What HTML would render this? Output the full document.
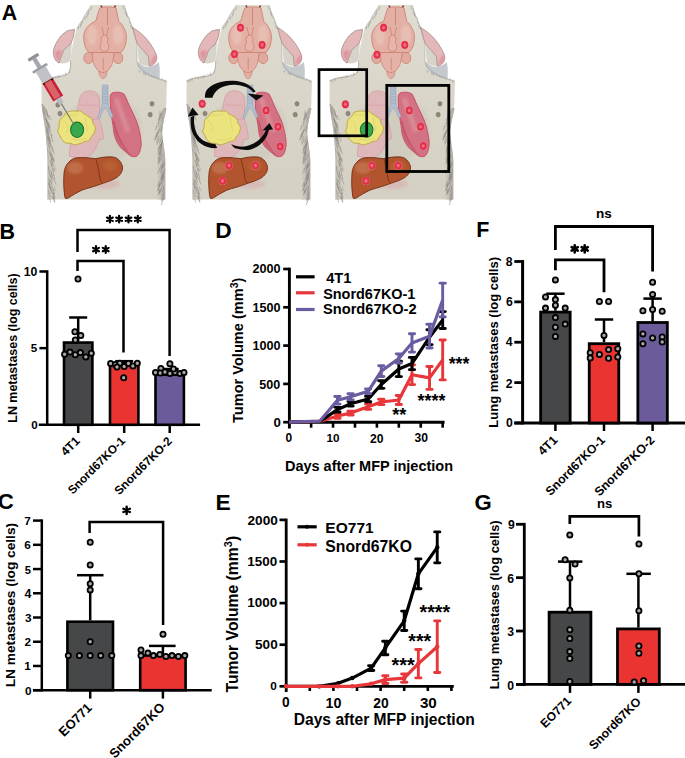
<!DOCTYPE html>
<html><head><meta charset="utf-8"><title>Figure</title>
<style>html,body{margin:0;padding:0;background:#fff;}svg{display:block;}
text{font-family:"Liberation Sans", sans-serif;fill:#000;stroke:none;}</style></head>
<body><svg width="685" height="758" viewBox="0 0 685 758">
<rect width="685" height="758" fill="#fff"/>
<defs><g id="mouse"><defs><filter id="blur1" x="-20%" y="-20%" width="140%" height="140%"><feGaussianBlur stdDeviation="1.6"/></filter><filter id="blur2" x="-20%" y="-20%" width="140%" height="140%"><feGaussianBlur stdDeviation="0.8"/></filter><linearGradient id="fringeL" x1="0" x2="1"><stop offset="0" stop-color="#a9a69f"/><stop offset="1" stop-color="#d8d3c7"/></linearGradient><linearGradient id="fringeR" x1="1" x2="0"><stop offset="0" stop-color="#a9a69f"/><stop offset="1" stop-color="#d8d3c7"/></linearGradient><linearGradient id="bodyG" x1="0" y1="0" x2="0" y2="1"><stop offset="0" stop-color="#e0dcd1"/><stop offset="0.5" stop-color="#dad5c9"/><stop offset="1" stop-color="#d5d0c4"/></linearGradient></defs>
<path d="M91.5,5 L124,5 C126,11 129,20 132.5,27 C135,31 137,34 137,37 L137,62 C139,69 147,75 156,78 C161,79.5 165,80 167,81.5 L166.5,96 C166.5,104 166,110 165,115 C163.5,121 162.1,126 162.1,130 C162.5,142 165,150 165.3,160 L165.3,199.5 L47.5,199.5 L47.5,160 C47,145 46,133 44,122 C42.5,114 41.5,108 41.5,100 L41.5,81 C45,78.5 51,77.5 56,77 C61,76.5 65,75.5 67.5,74 C70,72 71,66 70.6,61 C71.5,50 73,40 76.7,28.5 C79,24 82,21 82,21 C84,16 88,10 91.5,5 Z" fill="url(#bodyG)"/>
<path d="M137.5,61 C141,65.5 146,67.5 150,66.5 C154,66 157,64 158.5,62 C160,66 160,72 159.5,78.9 C156,78.5 152,77.5 147.5,75.5 C143,73.5 139.5,70 137.5,66 Z" fill="#c6c9cc"/>
<path d="M41.5,104 C42.5,112 43.5,118 44.5,124 C46,135 47,147 47.5,160 L47.5,199.5 L54,199.5 C53.5,180 52.5,160 51,140 C50,128 47,116 43,104 Z" fill="url(#fringeL)"/>
<path d="M166.5,108 C165.5,115 163,122 162.1,130 C162.5,142 165,150 165.3,160 L165.3,199.5 L157,199.5 C157,175 156.5,150 156,138 C156,125 159,116 163.5,108 Z" fill="url(#fringeR)"/>
<g stroke-width="0.55" fill="none" opacity="0.85"><path d="M44.1,106.0 l1.2,4.5" stroke="#6e6d68"/><path d="M42.9,107.6 l1.1,6.2" stroke="#85837d"/><path d="M45.2,108.5 l1.8,3.9" stroke="#7a7873"/><path d="M46.1,109.3 l2.0,7.5" stroke="#6e6d68"/><path d="M45.3,110.7 l3.3,7.2" stroke="#85837d"/><path d="M43.9,111.8 l1.6,4.2" stroke="#85837d"/><path d="M46.6,112.7 l1.9,4.3" stroke="#6e6d68"/><path d="M47.1,114.1 l1.7,5.7" stroke="#9a9892"/><path d="M49.2,115.3 l2.0,5.1" stroke="#85837d"/><path d="M45.2,116.8 l1.8,6.0" stroke="#9a9892"/><path d="M45.7,118.3 l3.2,7.2" stroke="#7a7873"/><path d="M46.2,119.3 l2.5,7.3" stroke="#6e6d68"/><path d="M47.9,120.9 l2.6,7.0" stroke="#9a9892"/><path d="M48.1,122.3 l1.1,5.7" stroke="#9a9892"/><path d="M48.8,123.5 l1.0,4.1" stroke="#7a7873"/><path d="M47.2,124.6 l2.9,6.0" stroke="#7a7873"/><path d="M48.7,125.8 l2.2,5.5" stroke="#9a9892"/><path d="M46.6,126.7 l1.0,5.5" stroke="#6e6d68"/><path d="M47.6,127.7 l2.0,4.7" stroke="#7a7873"/><path d="M47.0,129.3 l1.9,5.3" stroke="#7a7873"/><path d="M46.3,131.1 l1.7,4.4" stroke="#85837d"/><path d="M50.6,131.9 l1.7,4.4" stroke="#85837d"/><path d="M47.8,133.1 l1.0,6.2" stroke="#6e6d68"/><path d="M51.0,134.4 l1.9,7.6" stroke="#7a7873"/><path d="M48.2,135.6 l1.9,5.6" stroke="#85837d"/><path d="M47.1,136.5 l1.6,4.4" stroke="#6e6d68"/><path d="M49.4,137.4 l1.0,6.1" stroke="#6e6d68"/><path d="M47.2,138.2 l1.4,5.3" stroke="#9a9892"/><path d="M49.0,139.6 l1.3,4.3" stroke="#7a7873"/><path d="M48.1,140.9 l1.0,4.5" stroke="#9a9892"/><path d="M50.5,142.2 l2.3,5.6" stroke="#9a9892"/><path d="M49.7,143.1 l1.2,3.9" stroke="#6e6d68"/><path d="M48.1,144.6 l2.1,5.0" stroke="#85837d"/><path d="M51.4,146.0 l2.0,4.9" stroke="#85837d"/><path d="M51.8,147.6 l2.6,6.5" stroke="#7a7873"/><path d="M47.0,148.7 l1.5,3.8" stroke="#9a9892"/><path d="M50.6,149.7 l1.1,5.3" stroke="#9a9892"/><path d="M49.3,151.5 l1.8,4.5" stroke="#85837d"/><path d="M50.1,152.6 l2.1,7.7" stroke="#6e6d68"/><path d="M51.2,153.9 l3.0,6.6" stroke="#6e6d68"/><path d="M52.2,155.6 l2.1,6.7" stroke="#85837d"/><path d="M51.4,156.8 l0.7,4.3" stroke="#7a7873"/><path d="M52.1,158.1 l1.7,4.0" stroke="#85837d"/><path d="M51.3,158.9 l1.5,5.7" stroke="#7a7873"/><path d="M50.0,160.4 l2.5,5.7" stroke="#6e6d68"/><path d="M52.3,162.0 l1.0,4.3" stroke="#85837d"/><path d="M53.2,163.2 l2.8,6.8" stroke="#9a9892"/><path d="M50.9,164.2 l2.4,6.6" stroke="#7a7873"/><path d="M48.2,165.9 l1.3,6.8" stroke="#7a7873"/><path d="M53.2,167.5 l1.8,4.2" stroke="#6e6d68"/><path d="M52.6,169.2 l1.4,6.3" stroke="#85837d"/><path d="M50.7,170.1 l1.9,6.6" stroke="#9a9892"/><path d="M51.1,171.6 l1.3,5.8" stroke="#6e6d68"/><path d="M49.5,172.7 l2.1,6.8" stroke="#6e6d68"/><path d="M53.5,174.2 l1.5,5.6" stroke="#85837d"/><path d="M50.6,175.7 l1.9,5.8" stroke="#85837d"/><path d="M53.2,177.2 l2.8,7.2" stroke="#85837d"/><path d="M48.7,178.9 l1.4,4.3" stroke="#6e6d68"/><path d="M50.5,180.3 l1.7,4.5" stroke="#6e6d68"/><path d="M48.8,182.0 l1.7,6.6" stroke="#85837d"/><path d="M48.7,183.1 l1.3,5.7" stroke="#6e6d68"/><path d="M50.8,184.3 l1.6,7.8" stroke="#85837d"/><path d="M54.0,185.8 l1.8,5.3" stroke="#9a9892"/><path d="M52.3,186.9 l1.1,3.9" stroke="#7a7873"/><path d="M50.2,188.4 l2.1,5.7" stroke="#6e6d68"/><path d="M53.5,189.3 l0.9,4.8" stroke="#6e6d68"/><path d="M48.0,190.4 l2.6,6.6" stroke="#85837d"/><path d="M53.1,192.0 l1.1,6.6" stroke="#7a7873"/><path d="M53.5,193.0 l1.5,6.1" stroke="#6e6d68"/><path d="M52.8,194.0 l0.9,4.7" stroke="#9a9892"/><path d="M51.7,195.8 l3.0,6.6" stroke="#85837d"/><path d="M53.1,196.6 l2.0,5.5" stroke="#7a7873"/><path d="M49.5,198.4 l1.3,4.3" stroke="#85837d"/><path d="M160.2,110.0 l-1.0,4.9" stroke="#9a9892"/><path d="M162.6,111.4 l-1.4,4.6" stroke="#85837d"/><path d="M160.7,112.5 l-1.3,7.9" stroke="#6e6d68"/><path d="M161.9,114.0 l-1.4,4.6" stroke="#7a7873"/><path d="M160.0,114.9 l-1.7,5.5" stroke="#7a7873"/><path d="M162.8,116.7 l-1.1,4.7" stroke="#85837d"/><path d="M160.0,118.3 l-1.8,6.3" stroke="#9a9892"/><path d="M158.8,120.1 l-1.3,3.8" stroke="#9a9892"/><path d="M163.4,121.4 l-1.7,6.4" stroke="#9a9892"/><path d="M159.1,122.8 l-0.9,4.1" stroke="#9a9892"/><path d="M161.5,124.0 l-3.4,7.1" stroke="#9a9892"/><path d="M156.9,125.0 l-1.3,5.1" stroke="#6e6d68"/><path d="M162.1,126.2 l-1.7,4.8" stroke="#85837d"/><path d="M162.3,127.5 l-0.9,5.0" stroke="#7a7873"/><path d="M159.6,128.9 l-1.7,4.9" stroke="#6e6d68"/><path d="M158.5,130.3 l-2.4,6.6" stroke="#7a7873"/><path d="M157.5,131.8 l-1.4,5.8" stroke="#85837d"/><path d="M156.9,132.7 l-2.5,7.1" stroke="#85837d"/><path d="M157.6,134.4 l-2.4,5.8" stroke="#6e6d68"/><path d="M158.8,136.0 l-2.6,7.1" stroke="#85837d"/><path d="M162.2,136.9 l-2.8,5.9" stroke="#7a7873"/><path d="M159.2,138.5 l-2.2,6.1" stroke="#85837d"/><path d="M162.8,139.8 l-2.6,6.7" stroke="#6e6d68"/><path d="M162.5,141.3 l-1.6,6.8" stroke="#6e6d68"/><path d="M161.6,142.9 l-1.5,6.9" stroke="#7a7873"/><path d="M160.8,144.2 l-2.1,5.5" stroke="#6e6d68"/><path d="M159.4,145.6 l-0.8,4.2" stroke="#9a9892"/><path d="M159.2,147.1 l-1.2,6.4" stroke="#7a7873"/><path d="M161.9,147.9 l-2.3,6.3" stroke="#7a7873"/><path d="M160.5,149.0 l-1.7,5.6" stroke="#6e6d68"/><path d="M160.5,150.8 l-0.9,5.2" stroke="#7a7873"/><path d="M161.1,151.6 l-3.1,6.6" stroke="#7a7873"/><path d="M161.7,153.4 l-3.2,7.0" stroke="#6e6d68"/><path d="M163.4,154.8 l-2.6,5.5" stroke="#85837d"/><path d="M160.5,156.2 l-0.9,5.0" stroke="#9a9892"/><path d="M159.0,157.3 l-0.9,5.9" stroke="#6e6d68"/><path d="M160.5,159.0 l-2.0,5.2" stroke="#7a7873"/><path d="M163.0,160.1 l-1.1,7.3" stroke="#9a9892"/><path d="M164.3,161.8 l-2.7,7.2" stroke="#9a9892"/><path d="M164.6,162.8 l-2.2,5.1" stroke="#6e6d68"/><path d="M162.3,164.0 l-0.8,5.0" stroke="#6e6d68"/><path d="M160.9,164.8 l-1.3,6.4" stroke="#9a9892"/><path d="M163.0,166.1 l-2.7,6.6" stroke="#7a7873"/><path d="M160.0,167.8 l-2.7,5.9" stroke="#85837d"/><path d="M164.7,169.3 l-1.9,6.6" stroke="#85837d"/><path d="M163.2,170.7 l-1.7,3.8" stroke="#85837d"/><path d="M162.4,171.7 l-1.2,5.0" stroke="#9a9892"/><path d="M163.5,172.9 l-2.0,5.6" stroke="#6e6d68"/><path d="M164.0,173.9 l-2.0,4.4" stroke="#7a7873"/><path d="M162.2,175.2 l-2.0,5.0" stroke="#7a7873"/><path d="M163.8,176.2 l-1.1,4.2" stroke="#6e6d68"/><path d="M162.7,177.3 l-1.5,7.1" stroke="#6e6d68"/><path d="M162.4,178.8 l-1.7,5.4" stroke="#7a7873"/><path d="M160.3,179.9 l-1.9,5.7" stroke="#9a9892"/><path d="M161.9,180.8 l-2.6,6.0" stroke="#85837d"/><path d="M159.4,181.7 l-1.9,5.2" stroke="#7a7873"/><path d="M159.7,183.5 l-1.2,7.4" stroke="#6e6d68"/><path d="M160.3,184.7 l-3.1,6.5" stroke="#7a7873"/><path d="M162.6,185.5 l-3.0,7.1" stroke="#7a7873"/><path d="M163.5,187.3 l-0.9,4.4" stroke="#6e6d68"/><path d="M160.5,189.0 l-2.4,6.1" stroke="#7a7873"/><path d="M160.2,189.9 l-0.7,3.9" stroke="#6e6d68"/><path d="M163.1,191.3 l-1.0,4.4" stroke="#7a7873"/><path d="M164.3,192.8 l-1.3,4.1" stroke="#85837d"/><path d="M163.6,194.0 l-1.0,6.3" stroke="#9a9892"/><path d="M163.3,195.8 l-2.1,4.8" stroke="#85837d"/><path d="M163.5,197.1 l-2.1,4.5" stroke="#9a9892"/><path d="M163.8,198.0 l-2.5,7.1" stroke="#6e6d68"/></g>
<g stroke-width="0.5" fill="none" opacity="0.8"><path d="M92.1,6.6 l-1.1,3.1" stroke="#8a8882"/><path d="M90.7,8.6 l-1.0,2.4" stroke="#8a8882"/><path d="M89.0,10.1 l-0.6,2.2" stroke="#8a8882"/><path d="M88.8,11.5 l-0.7,3.2" stroke="#8a8882"/><path d="M87.9,13.1 l-0.3,2.3" stroke="#7e7c76"/><path d="M87.8,13.9 l-0.8,3.8" stroke="#97958f"/><path d="M86.2,16.0 l-0.8,3.7" stroke="#97958f"/><path d="M85.1,17.0 l-0.9,2.2" stroke="#8a8882"/><path d="M83.0,19.8 l-0.9,3.7" stroke="#7e7c76"/><path d="M82.0,20.8 l-0.8,2.1" stroke="#7e7c76"/><path d="M82.1,22.8 l-1.2,2.8" stroke="#7e7c76"/><path d="M80.7,23.6 l-0.3,3.9" stroke="#8a8882"/><path d="M80.3,25.4 l-0.9,2.1" stroke="#97958f"/><path d="M78.6,26.9 l-0.3,2.6" stroke="#7e7c76"/><path d="M123.2,6.2 l0.3,3.4" stroke="#97958f"/><path d="M124.7,8.4 l0.7,3.1" stroke="#8a8882"/><path d="M125.6,11.6 l0.6,2.8" stroke="#7e7c76"/><path d="M125.6,12.4 l1.2,3.7" stroke="#7e7c76"/><path d="M126.6,14.9 l1.1,2.8" stroke="#7e7c76"/><path d="M128.7,16.8 l0.7,2.3" stroke="#8a8882"/><path d="M129.6,19.4 l0.4,2.6" stroke="#8a8882"/><path d="M129.7,22.1 l0.6,2.0" stroke="#7e7c76"/><path d="M130.4,24.8 l0.8,3.0" stroke="#7e7c76"/><path d="M131.6,26.4 l0.5,2.6" stroke="#8a8882"/><path d="M133.0,27.8 l1.1,3.5" stroke="#97958f"/><path d="M134.7,31.1 l0.7,3.2" stroke="#7e7c76"/><path d="M134.7,32.6 l1.0,2.5" stroke="#97958f"/><path d="M136.3,35.3 l0.6,3.2" stroke="#8a8882"/><path d="M43.1,80.4 l-0.0,1.8" stroke="#8a8882"/><path d="M44.9,79.8 l-0.4,2.6" stroke="#7e7c76"/><path d="M46.8,79.1 l-0.2,1.7" stroke="#7e7c76"/><path d="M47.7,78.8 l-0.3,1.9" stroke="#8a8882"/><path d="M51.2,77.6 l-0.7,1.7" stroke="#97958f"/><path d="M53.3,76.9 l0.4,2.7" stroke="#8a8882"/><path d="M55.3,76.2 l0.8,2.5" stroke="#97958f"/><path d="M57.2,75.5 l0.9,2.7" stroke="#7e7c76"/><path d="M58.8,74.9 l-0.9,1.7" stroke="#97958f"/><path d="M60.3,74.4 l-0.8,3.2" stroke="#8a8882"/><path d="M62.5,73.6 l0.9,1.7" stroke="#8a8882"/><path d="M65.0,72.7 l0.8,2.9" stroke="#97958f"/><path d="M66.1,72.4 l-0.8,2.4" stroke="#97958f"/><path d="M69.5,71.2 l-0.0,1.6" stroke="#7e7c76"/><path d="M139.0,70.4 l0.2,2.2" stroke="#8a8882"/><path d="M140.1,70.8 l-0.8,1.7" stroke="#97958f"/><path d="M143.4,71.9 l-0.2,2.8" stroke="#8a8882"/><path d="M145.1,72.5 l-0.1,2.3" stroke="#8a8882"/><path d="M146.1,72.9 l-0.9,2.8" stroke="#8a8882"/><path d="M148.1,73.6 l0.9,1.6" stroke="#7e7c76"/><path d="M150.8,74.6 l0.8,2.6" stroke="#97958f"/><path d="M153.4,75.5 l-0.7,2.2" stroke="#8a8882"/><path d="M154.3,75.8 l0.8,1.9" stroke="#8a8882"/><path d="M157.5,77.0 l-0.5,2.4" stroke="#97958f"/><path d="M159.1,77.5 l-0.1,1.9" stroke="#7e7c76"/><path d="M161.4,78.4 l0.2,2.2" stroke="#97958f"/><path d="M162.3,78.7 l-0.3,1.8" stroke="#7e7c76"/><path d="M165.1,79.7 l-0.4,3.1" stroke="#7e7c76"/></g>
<path d="M41.5,81 C45,78.5 51,77.5 56,77 C61,76.5 65,75.5 67.5,74 C70,72 71,66 70.6,61" fill="none" stroke="#8f8f8a" stroke-width="0.7"/>
<path d="M137,62 C139,69 147,75 156,78 C161,79.5 165,80 167,81.5" fill="none" stroke="#9a9a96" stroke-width="0.6"/>
<path d="M91.5,5 C88,10 84,16 82,21 C79,24 77.5,27 76.7,28.5" fill="none" stroke="#a5a5a0" stroke-width="0.6"/>
<path d="M124,5 C126,11 129,20 132.5,27 C135,31 137,34 137,37 L137,62" fill="none" stroke="#a5a5a0" stroke-width="0.6"/>
<path d="M59,63 C62,64 66,63.5 70.5,61 L72,42 C69,44.5 66,47 63.5,50.5 C62.5,53 61.5,56 59,63 Z" fill="#d6d3c8"/>
<path d="M74.5,29.5 C71,29.8 68,30.5 67,31 C63,33.5 61,35.5 59.5,38 C56.5,42 55,45 54,48 C53.3,50.5 53.2,52 53.5,54 C53.8,57 54.5,58.5 55.5,60 C56.5,61.5 57.8,62.5 59,63 C59.8,60.5 60.5,58 61.5,56 C62.2,54 62.8,52 63.5,50.5 C65.5,48 67.8,46 70,44.5 C71.5,42 72.5,40 73,38 C73.8,35 74.3,32.5 74.5,30 Z" fill="#e4b8b8" stroke="#8c7272" stroke-width="0.6"/>
<path d="M55,52 C55.5,56 56.5,59 58.5,61.5 C59.5,58 60.5,55 62,51 C60,50 57,50.5 55,52 Z" fill="#dc8494" opacity="0.75" filter="url(#blur2)"/>
<path d="M138.1,44.9 C141.5,48.5 145,52 148.2,56.1 C148.8,59 149,62.5 149.4,66.2 C146,66 142,65 139,63 C138,57 137.8,51 138.1,44.9 Z" fill="#d6d3c8"/>
<path d="M132.5,27.5 C137,30 141.5,33.5 144.9,37 C148.5,41 151.5,45 153.8,49.4 C155.5,52.5 156.6,55 156.7,57.2 C156.8,60 155.5,62.5 153.8,64 C152.5,65.2 151,66 149.4,66.2 C149,62.5 148.8,59 148.2,56.1 C145,52 141.5,48.5 138.1,44.9 C136.5,42 135.5,39 134.8,35.9 C134,33 133.2,30 132.5,27.5 Z" fill="#e4b8b8" stroke="#8c7272" stroke-width="0.6"/>
<path d="M150,64.5 C151.5,61 153,57.5 155.5,54 C156.8,57 156.5,60.5 154,63.5 Z" fill="#dc8494" opacity="0.75" filter="url(#blur2)"/>
<path d="M101,5.5 L103,10 M115.5,5.5 L113.5,10" stroke="#7a3434" stroke-width="1.6"/>
<ellipse cx="88.6" cy="58" rx="4.8" ry="5.6" fill="#e0aaa0" stroke="#cc7a66" stroke-width="0.7"/>
<ellipse cx="118" cy="58" rx="4.8" ry="5.6" fill="#e0aaa0" stroke="#cc7a66" stroke-width="0.7"/>
<path d="M98.5,70 L107.4,70 C107,75 105.5,78 103,78.8 C100.5,78 99,75 98.5,70 Z" fill="#e2ada3" stroke="#cc7a66" stroke-width="0.6"/>
<path d="M93,51 C92,58 93,64 96,68 C98,71 101,72.5 103,72.5 C105,72.5 108,71 110,68 C113,64 114,58 113.8,51 Z" fill="#e4b2a8" stroke="#cc7a66" stroke-width="0.7"/>
<path d="M103.2,58 L103.2,70" stroke="#cc7a66" stroke-width="0.7"/>
<path d="M100,8 C103,6.5 113,6.5 116,8 C117,13 118,17 118.5,21 C123,25 126.4,31 126.4,37 C126.4,44 124.5,49 121,52.5 L89,52.5 C85.5,49 83.7,44 83.7,37 C83.7,31 87,25 95.8,21 C97,17 98,12 100,8 Z" fill="#e3b0a6" stroke="#cc7a66" stroke-width="0.8"/>
<ellipse cx="92" cy="35" rx="5" ry="10" fill="#eccabe" opacity="0.55" filter="url(#blur2)"/>
<ellipse cx="118" cy="35" rx="5" ry="10" fill="#eccabe" opacity="0.55" filter="url(#blur2)"/>
<path d="M107.5,8 L107.5,25" stroke="#cc7a66" stroke-width="0.8"/>
<path d="M102,27 L104,36 M108.5,27 L106.5,36" fill="none" stroke="#cc7a66" stroke-width="0.7"/>
<path d="M102.5,36 C100.5,38 100.5,41 102,42.5 C99.8,44 99.5,48.5 101.5,50.5 C103,51.5 106,51.5 107.5,50.5 C109.5,48.5 109,44 107,42.5 C108.5,41 108.5,38 106.5,36 C105,35 104,35 102.5,36 Z" fill="#e6b6ac" stroke="#cc7a66" stroke-width="0.7"/>
<ellipse cx="104" cy="128" rx="38" ry="34" fill="#c9c4b8" opacity="0.45" filter="url(#blur1)"/>
<path d="M85,91.5 C81,93 79,98 78.4,106 C75,118 71,135 69.2,156 C75,158 81,158 86.3,157.5 C92,155 97,148 99.4,139 C101.5,140 103.5,139.5 103.4,137.8 C103,130 101,124 99.4,119.4 C99.5,113 99.7,106 99.4,99.7 C99,95 97,92 93,91.2 C90,90.6 87,90.8 85,91.5 Z" fill="#e0b7b9" stroke="#d09aa2" stroke-width="0.7"/>
<path d="M80,105 C85,106 90,104 98,106 M79,119 C86,118 92,120 99,119" fill="none" stroke="#d09aa2" stroke-width="0.6"/>
<path d="M112,93 C116,91.5 121,92 124,94 C126,97 127,100 127.8,102.3 C131,110 136,118 138.2,126 C140,133 141.5,140 141.1,145 C140.5,151 139,155 136.3,156.4 C133,157.5 130.5,156 128.7,154.5 C125,151 122,149 120.2,147 C117,143 115,138 114,133 C113.5,128 112.5,122 111.5,116.5 C110.5,110 110.2,103 110.2,98 C110.2,95.5 111,94 112,93 Z" fill="#d27282" stroke="#c84a60" stroke-width="0.9"/>
<path d="M112,115 C113,125 114,135 118,142 C121,147 125,151 129,154.5 C126,150 124,146 121,140 C118,133 115,125 112,115 Z" fill="#c45c6e" opacity="0.7"/>
<path d="M116,98 C119,108 124,120 128,132" fill="none" stroke="#e2a0a8" stroke-width="5" opacity="0.55" filter="url(#blur1)"/>
<path d="M114,121 C116,133 122,145 131,155.5" fill="none" stroke="#b84a5e" stroke-width="0.7"/>
<path d="M102.3,85 L108,85 L108,105 C110,109 112,113 113,117 L110.8,118 C109.5,114 107,110 105.2,107.5 C103.2,110 101,114 99.8,118.5 L97.6,117.5 C99,113 100.5,109 102.3,105 Z" fill="#b3bfd0" stroke="#8e9bb0" stroke-width="0.5"/>
<path d="M102.5,88 h5.5 M102.5,91 h5.5 M102.5,94 h5.5 M102.5,97 h5.5 M102.5,100 h5.5 M102.5,103 h5.5" stroke="#8e9bb0" stroke-width="0.5"/>
<ellipse cx="57.8" cy="104.9" rx="2.1" ry="2.4" fill="#8f8874" stroke="#6a6352" stroke-width="0.4"/>
<ellipse cx="60" cy="113.6" rx="2.1" ry="2.4" fill="#8f8874" stroke="#6a6352" stroke-width="0.4"/>
<ellipse cx="152" cy="103.8" rx="2.1" ry="2.4" fill="#8f8874" stroke="#6a6352" stroke-width="0.4"/>
<ellipse cx="150.2" cy="114.7" rx="2.1" ry="2.4" fill="#8f8874" stroke="#6a6352" stroke-width="0.4"/>
<ellipse cx="104" cy="184" rx="16" ry="5" fill="#d9a0a6" opacity="0.45" filter="url(#blur1)"/>
<path d="M65.1,198 C63.5,190 63.5,180 64,173.5 C64.5,166 69,160 75.3,158 C82,157 90,158 95.7,158.7 C101,157.5 106,156.5 112.9,157 C117,157.5 121,161 122.3,166 C123.5,171 120,176 115,178.6 C111,180.5 106,182.5 102.9,183.2 C100,184.5 95,186 89.6,187.8 C85,189 82,190 80.4,190.9 C76,193 72,195.5 69,197.5 C67.5,198.5 66,199 65.1,198 Z" fill="#b2552e" stroke="#6e2e12" stroke-width="0.9"/>
<path d="M95.7,158.7 C97,163 99,170 99.5,176 C99.8,179 100.5,181.5 102.9,183.2" fill="none" stroke="#6e2e12" stroke-width="0.8"/>
<ellipse cx="75" cy="168" rx="8" ry="6" fill="#c88058" opacity="0.6" filter="url(#blur2)"/>
<ellipse cx="110" cy="166" rx="7" ry="5" fill="#c06a38" opacity="0.5" filter="url(#blur2)"/>
<path d="M95.4,127.4 L95.3,129.0 L94.9,130.6 L94.4,132.1 L93.8,133.6 L92.8,134.9 L91.7,136.2 L90.9,137.5 L90.2,139.0 L89.2,140.3 L87.7,141.0 L85.9,141.3 L84.2,141.7 L82.8,142.3 L81.5,143.1 L80.0,143.6 L78.5,144.0 L76.9,144.5 L75.3,144.8 L73.7,144.6 L72.1,144.0 L70.7,143.3 L69.1,143.2 L67.3,143.3 L65.6,142.9 L64.2,142.0 L63.1,140.8 L62.1,139.6 L61.1,138.4 L60.5,137.0 L60.0,135.6 L59.3,134.3 L58.4,133.1 L57.7,131.8 L57.8,130.2 L58.5,128.8 L59.0,127.4 L59.1,126.1 L59.0,124.8 L59.2,123.4 L59.5,122.1 L59.8,120.7 L60.2,119.4 L61.1,118.2 L62.3,117.4 L63.5,116.5 L64.3,115.3 L65.0,113.8 L66.0,112.6 L67.5,111.9 L69.0,111.5 L70.6,111.2 L72.2,110.9 L73.7,111.0 L75.3,111.2 L76.8,111.2 L78.5,110.9 L80.1,110.9 L81.5,111.6 L82.7,112.8 L83.8,113.8 L85.1,114.5 L86.5,115.1 L87.8,115.9 L89.0,116.8 L90.3,117.7 L91.5,118.8 L92.3,120.1 L92.6,121.6 L92.9,123.1 L93.7,124.4 L94.8,125.8 Z" fill="#ebe37e" stroke="#b8a63a" stroke-width="0.9" stroke-linejoin="round"/>
<path d="M63,120 C67,123 69,127 67,132 M86,117 C84,122 88,126 87,131 M72,139 C77,141 82,140 87,138 M66,114 C70,116 74,115 78,114" fill="none" stroke="#d8cc62" stroke-width="0.8" opacity="0.8"/></g></defs>
<use href="#mouse"/>
<use href="#mouse" transform="translate(145,0)"/>
<use href="#mouse" transform="translate(288,0)"/>
<ellipse cx="77.1" cy="129.8" rx="6.5" ry="7.7" fill="#3aa64e" stroke="#157a30" stroke-width="1.1"/>
<g transform="translate(33.5,57.3) rotate(-31)"><rect x="-6" y="-1.6" width="12" height="3.2" rx="1" fill="#8e9096"/><rect x="-2.2" y="1" width="4.4" height="11" fill="#a6a8ae"/><rect x="-8.5" y="11.5" width="17" height="2.6" rx="1" fill="#9a9ca2"/><rect x="-5.8" y="13.8" width="11.6" height="14" fill="#c0c2c8"/><rect x="-5.8" y="27.5" width="11.6" height="20.5" fill="#c81e36"/><rect x="-5.8" y="27.5" width="11.6" height="1.6" fill="#4a1010"/><rect x="-3.8" y="28" width="7" height="19" fill="#dc6a6a" opacity="0.9"/><rect x="-2.6" y="48" width="5.2" height="6" fill="#b8bac0"/><rect x="-0.6" y="54" width="1.2" height="23" fill="#7a7c80"/></g>
<ellipse cx="240.5" cy="27.7" rx="3.7" ry="4.2" fill="#f08a98" opacity="0.8"/><ellipse cx="240.5" cy="27.7" rx="3.1" ry="3.6" fill="#e8324c" stroke="#d01c38" stroke-width="0.6"/><ellipse cx="240.5" cy="27.7" rx="1.55" ry="1.8" fill="#f27a8a" opacity="0.8"/>
<ellipse cx="262.1" cy="44.9" rx="3.7" ry="4.2" fill="#f08a98" opacity="0.8"/><ellipse cx="262.1" cy="44.9" rx="3.1" ry="3.6" fill="#e8324c" stroke="#d01c38" stroke-width="0.6"/><ellipse cx="262.1" cy="44.9" rx="1.55" ry="1.8" fill="#f27a8a" opacity="0.8"/>
<ellipse cx="234.4" cy="54.1" rx="3.7" ry="4.2" fill="#f08a98" opacity="0.8"/><ellipse cx="234.4" cy="54.1" rx="3.1" ry="3.6" fill="#e8324c" stroke="#d01c38" stroke-width="0.6"/><ellipse cx="234.4" cy="54.1" rx="1.55" ry="1.8" fill="#f27a8a" opacity="0.8"/>
<ellipse cx="202.2" cy="103.8" rx="3.7" ry="4.2" fill="#f08a98" opacity="0.8"/><ellipse cx="202.2" cy="103.8" rx="3.1" ry="3.6" fill="#e8324c" stroke="#d01c38" stroke-width="0.6"/><ellipse cx="202.2" cy="103.8" rx="1.55" ry="1.8" fill="#f27a8a" opacity="0.8"/>
<ellipse cx="266.1" cy="110.4" rx="3.7" ry="4.2" fill="#f08a98" opacity="0.8"/><ellipse cx="266.1" cy="110.4" rx="3.1" ry="3.6" fill="#e8324c" stroke="#d01c38" stroke-width="0.6"/><ellipse cx="266.1" cy="110.4" rx="1.55" ry="1.8" fill="#f27a8a" opacity="0.8"/>
<ellipse cx="278" cy="126.7" rx="3.7" ry="4.2" fill="#f08a98" opacity="0.8"/><ellipse cx="278" cy="126.7" rx="3.1" ry="3.6" fill="#e8324c" stroke="#d01c38" stroke-width="0.6"/><ellipse cx="278" cy="126.7" rx="1.55" ry="1.8" fill="#f27a8a" opacity="0.8"/>
<ellipse cx="280.1" cy="146.5" rx="3.7" ry="4.2" fill="#f08a98" opacity="0.8"/><ellipse cx="280.1" cy="146.5" rx="3.1" ry="3.6" fill="#e8324c" stroke="#d01c38" stroke-width="0.6"/><ellipse cx="280.1" cy="146.5" rx="1.55" ry="1.8" fill="#f27a8a" opacity="0.8"/>
<ellipse cx="229.1" cy="165.5" rx="3.7" ry="4.2" fill="#f08a98" opacity="0.8"/><ellipse cx="229.1" cy="165.5" rx="3.1" ry="3.6" fill="#e8324c" stroke="#d01c38" stroke-width="0.6"/><ellipse cx="229.1" cy="165.5" rx="1.55" ry="1.8" fill="#f27a8a" opacity="0.8"/>
<ellipse cx="255.5" cy="165.5" rx="3.7" ry="4.2" fill="#f08a98" opacity="0.8"/><ellipse cx="255.5" cy="165.5" rx="3.1" ry="3.6" fill="#e8324c" stroke="#d01c38" stroke-width="0.6"/><ellipse cx="255.5" cy="165.5" rx="1.55" ry="1.8" fill="#f27a8a" opacity="0.8"/>
<ellipse cx="222.5" cy="180.9" rx="3.7" ry="4.2" fill="#f08a98" opacity="0.8"/><ellipse cx="222.5" cy="180.9" rx="3.1" ry="3.6" fill="#e8324c" stroke="#d01c38" stroke-width="0.6"/><ellipse cx="222.5" cy="180.9" rx="1.55" ry="1.8" fill="#f27a8a" opacity="0.8"/>
<g fill="#0b0b0b"><path d="M204.9,97.8 C205,92 206.5,89.5 209,87.8 C212,85 216,83 220.7,82 C225,81 229,80.6 233.5,80.8 C238,81 242.5,82 246.4,83.8 C250,85.5 253,88 255.7,91.4 L253.4,92.5 C251.5,90.5 250,89 247.6,87.8 C244,86 240.5,85.2 237,84.9 C233,84.6 229,85 225.4,86.1 C221,87.3 218,89 216,91.4 C214,93.5 213,95.5 212.5,97.8 Z"/><path d="M247.5,93.5 L263.5,95.5 L256.3,100.5 Z"/><path d="M217.2,148 C212,148.5 208,147.5 204.7,146 C200.5,144 197.5,141.5 195.5,138.1 C192.5,134 191.2,130 190.9,126.3 C190.5,123 190.5,120 190.9,117.1 L194.2,115.8 C194,119 194,122 194.2,125 C194.8,129 196,132 197.5,134.8 C200,138.5 203,140.5 206,141.8 C209,143 212,143.8 215.2,144 Z"/><path d="M187.8,116.5 L198.6,115 L192.5,107.5 Z"/><path d="M231.2,144 C233,147 234.5,148.3 236.2,148.6 C240,149.6 244,150.3 248,150 C252,149.5 256,147.5 259.9,144.7 C263,142 265.5,139 267.1,135.5 C268.5,132.5 269,130 269.1,127.6 L266.3,128.9 C265.5,131 264.8,132.5 263.8,134.2 C261.5,137.5 259,140 256,142 C252,144.5 248,146 244.1,146.6 C240,147 235,146 231.2,144 Z"/><path d="M262.5,130.5 L273,129.5 L269.5,123 Z"/></g>
<ellipse cx="383.6" cy="27.7" rx="3.7" ry="4.2" fill="#f08a98" opacity="0.8"/><ellipse cx="383.6" cy="27.7" rx="3.1" ry="3.6" fill="#e8324c" stroke="#d01c38" stroke-width="0.6"/><ellipse cx="383.6" cy="27.7" rx="1.55" ry="1.8" fill="#f27a8a" opacity="0.8"/>
<ellipse cx="404.8" cy="44.9" rx="3.7" ry="4.2" fill="#f08a98" opacity="0.8"/><ellipse cx="404.8" cy="44.9" rx="3.1" ry="3.6" fill="#e8324c" stroke="#d01c38" stroke-width="0.6"/><ellipse cx="404.8" cy="44.9" rx="1.55" ry="1.8" fill="#f27a8a" opacity="0.8"/>
<ellipse cx="377" cy="54.7" rx="3.7" ry="4.2" fill="#f08a98" opacity="0.8"/><ellipse cx="377" cy="54.7" rx="3.1" ry="3.6" fill="#e8324c" stroke="#d01c38" stroke-width="0.6"/><ellipse cx="377" cy="54.7" rx="1.55" ry="1.8" fill="#f27a8a" opacity="0.8"/>
<ellipse cx="345.4" cy="104.3" rx="3.7" ry="4.2" fill="#f08a98" opacity="0.8"/><ellipse cx="345.4" cy="104.3" rx="3.1" ry="3.6" fill="#e8324c" stroke="#d01c38" stroke-width="0.6"/><ellipse cx="345.4" cy="104.3" rx="1.55" ry="1.8" fill="#f27a8a" opacity="0.8"/>
<ellipse cx="409.3" cy="110.4" rx="3.7" ry="4.2" fill="#f08a98" opacity="0.8"/><ellipse cx="409.3" cy="110.4" rx="3.1" ry="3.6" fill="#e8324c" stroke="#d01c38" stroke-width="0.6"/><ellipse cx="409.3" cy="110.4" rx="1.55" ry="1.8" fill="#f27a8a" opacity="0.8"/>
<ellipse cx="420.6" cy="126.7" rx="3.7" ry="4.2" fill="#f08a98" opacity="0.8"/><ellipse cx="420.6" cy="126.7" rx="3.1" ry="3.6" fill="#e8324c" stroke="#d01c38" stroke-width="0.6"/><ellipse cx="420.6" cy="126.7" rx="1.55" ry="1.8" fill="#f27a8a" opacity="0.8"/>
<ellipse cx="423.2" cy="146" rx="3.7" ry="4.2" fill="#f08a98" opacity="0.8"/><ellipse cx="423.2" cy="146" rx="3.1" ry="3.6" fill="#e8324c" stroke="#d01c38" stroke-width="0.6"/><ellipse cx="423.2" cy="146" rx="1.55" ry="1.8" fill="#f27a8a" opacity="0.8"/>
<ellipse cx="371.8" cy="165.5" rx="3.7" ry="4.2" fill="#f08a98" opacity="0.8"/><ellipse cx="371.8" cy="165.5" rx="3.1" ry="3.6" fill="#e8324c" stroke="#d01c38" stroke-width="0.6"/><ellipse cx="371.8" cy="165.5" rx="1.55" ry="1.8" fill="#f27a8a" opacity="0.8"/>
<ellipse cx="398.2" cy="165.5" rx="3.7" ry="4.2" fill="#f08a98" opacity="0.8"/><ellipse cx="398.2" cy="165.5" rx="3.1" ry="3.6" fill="#e8324c" stroke="#d01c38" stroke-width="0.6"/><ellipse cx="398.2" cy="165.5" rx="1.55" ry="1.8" fill="#f27a8a" opacity="0.8"/>
<ellipse cx="366" cy="180.9" rx="3.7" ry="4.2" fill="#f08a98" opacity="0.8"/><ellipse cx="366" cy="180.9" rx="3.1" ry="3.6" fill="#e8324c" stroke="#d01c38" stroke-width="0.6"/><ellipse cx="366" cy="180.9" rx="1.55" ry="1.8" fill="#f27a8a" opacity="0.8"/>
<ellipse cx="366.6" cy="129.8" rx="6.3" ry="7.4" fill="#3aa64e" stroke="#157a30" stroke-width="1.1"/>
<rect x="319" y="69.6" width="47.7" height="66.2" fill="none" stroke="#000" stroke-width="2.7"/>
<rect x="386.8" y="85.4" width="62" height="86.1" fill="none" stroke="#000" stroke-width="2.8"/>
<text id="L_A" x="1.7" y="19.55" font-size="21.43" text-anchor="start" font-weight="bold" >A</text>
<text id="L_B" x="-0.55" y="238.95" font-size="21.43" text-anchor="start" font-weight="bold" >B</text>
<text id="L_C" x="-2.35" y="509.1" font-size="22.18" text-anchor="start" font-weight="bold" >C</text>
<text id="L_D" x="215.15" y="237.55" font-size="22.76" text-anchor="start" font-weight="bold" >D</text>
<text id="L_E" x="215.45" y="509.55" font-size="22.76" text-anchor="start" font-weight="bold" >E</text>
<text id="L_F" x="476.25" y="237.35" font-size="21.46" text-anchor="start" font-weight="bold" >F</text>
<text id="L_G" x="474.5" y="509.5" font-size="22.18" text-anchor="start" font-weight="bold" >G</text>
<line x1="47.2" y1="270.3" x2="47.2" y2="426" stroke="#000" stroke-width="2.5" stroke-linecap="butt"/>
<line x1="38.8" y1="424.8" x2="200.1" y2="424.8" stroke="#000" stroke-width="2.5" stroke-linecap="butt"/>
<line x1="39.4" y1="271.5" x2="47.2" y2="271.5" stroke="#000" stroke-width="2.5" stroke-linecap="butt"/>
<line x1="39.4" y1="348.15" x2="47.2" y2="348.15" stroke="#000" stroke-width="2.5" stroke-linecap="butt"/>
<text id="B_t10" x="37.3" y="276.25" font-size="12.23" text-anchor="end" font-weight="bold" >10</text>
<text id="B_t5" x="37.2" y="352.35" font-size="11.6" text-anchor="end" font-weight="bold" >5</text>
<text id="B_t0" x="37.6" y="428.9" font-size="11.59" text-anchor="end" font-weight="bold" >0</text>
<text id="B_yl" transform="translate(16.8,422.7) rotate(-90)" font-size="12.45" text-anchor="start" font-weight="bold">LN metastases (log cells)</text>
<rect x="64" y="342.55" width="28.4" height="82.25" fill="#464748" stroke="#000" stroke-width="2.6"/>
<rect x="110" y="364.78" width="28.4" height="60.02" fill="#ea3431" stroke="#000" stroke-width="2.6"/>
<rect x="155.5" y="374.74" width="28.4" height="50.06" fill="#6b5b9b" stroke="#000" stroke-width="2.6"/>
<line x1="78.2" y1="341.25" x2="78.2" y2="317.49" stroke="#000" stroke-width="2.5" stroke-linecap="butt"/>
<line x1="69.2" y1="317.49" x2="87.2" y2="317.49" stroke="#000" stroke-width="2.5" stroke-linecap="butt"/>
<line x1="124.2" y1="363.48" x2="124.2" y2="361.18" stroke="#000" stroke-width="2.5" stroke-linecap="butt"/>
<line x1="115.2" y1="361.18" x2="133.2" y2="361.18" stroke="#000" stroke-width="2.5" stroke-linecap="butt"/>
<line x1="169.7" y1="373.44" x2="169.7" y2="369" stroke="#000" stroke-width="2.5" stroke-linecap="butt"/>
<line x1="160.7" y1="369" x2="178.7" y2="369" stroke="#000" stroke-width="2.5" stroke-linecap="butt"/>
<circle cx="78" cy="279" r="2.6" fill="#a9a9a9" stroke="#000" stroke-width="1.8"/>
<circle cx="74.9" cy="331.7" r="2.6" fill="#a9a9a9" stroke="#000" stroke-width="1.8"/>
<circle cx="80.8" cy="335.5" r="2.6" fill="#a9a9a9" stroke="#000" stroke-width="1.8"/>
<circle cx="75.3" cy="340" r="2.6" fill="#a9a9a9" stroke="#000" stroke-width="1.8"/>
<circle cx="64.6" cy="354.3" r="2.6" fill="#a9a9a9" stroke="#000" stroke-width="1.8"/>
<circle cx="70" cy="352.1" r="2.6" fill="#a9a9a9" stroke="#000" stroke-width="1.8"/>
<circle cx="75.3" cy="354.7" r="2.6" fill="#a9a9a9" stroke="#000" stroke-width="1.8"/>
<circle cx="80.4" cy="352.6" r="2.6" fill="#a9a9a9" stroke="#000" stroke-width="1.8"/>
<circle cx="85.8" cy="356.9" r="2.6" fill="#a9a9a9" stroke="#000" stroke-width="1.8"/>
<circle cx="91.3" cy="353.2" r="2.6" fill="#a9a9a9" stroke="#000" stroke-width="1.8"/>
<circle cx="110.6" cy="363.5" r="2.6" fill="#a9a9a9" stroke="#000" stroke-width="1.8"/>
<circle cx="115.4" cy="364.5" r="2.6" fill="#a9a9a9" stroke="#000" stroke-width="1.8"/>
<circle cx="119.8" cy="363.2" r="2.6" fill="#a9a9a9" stroke="#000" stroke-width="1.8"/>
<circle cx="124.2" cy="366.5" r="2.6" fill="#a9a9a9" stroke="#000" stroke-width="1.8"/>
<circle cx="128.5" cy="363.5" r="2.6" fill="#a9a9a9" stroke="#000" stroke-width="1.8"/>
<circle cx="132.9" cy="366" r="2.6" fill="#a9a9a9" stroke="#000" stroke-width="1.8"/>
<circle cx="137.3" cy="363.3" r="2.6" fill="#a9a9a9" stroke="#000" stroke-width="1.8"/>
<circle cx="123.7" cy="377.7" r="2.6" fill="#a9a9a9" stroke="#000" stroke-width="1.8"/>
<circle cx="117" cy="367" r="2.6" fill="#a9a9a9" stroke="#000" stroke-width="1.8"/>
<circle cx="169.9" cy="363.7" r="2.6" fill="#a9a9a9" stroke="#000" stroke-width="1.8"/>
<circle cx="160.9" cy="368.5" r="2.6" fill="#a9a9a9" stroke="#000" stroke-width="1.8"/>
<circle cx="155.5" cy="372.5" r="2.6" fill="#a9a9a9" stroke="#000" stroke-width="1.8"/>
<circle cx="160.3" cy="373" r="2.6" fill="#a9a9a9" stroke="#000" stroke-width="1.8"/>
<circle cx="165" cy="372" r="2.6" fill="#a9a9a9" stroke="#000" stroke-width="1.8"/>
<circle cx="170" cy="373.5" r="2.6" fill="#a9a9a9" stroke="#000" stroke-width="1.8"/>
<circle cx="175" cy="372.2" r="2.6" fill="#a9a9a9" stroke="#000" stroke-width="1.8"/>
<circle cx="180" cy="373.6" r="2.6" fill="#a9a9a9" stroke="#000" stroke-width="1.8"/>
<circle cx="184" cy="372.5" r="2.6" fill="#a9a9a9" stroke="#000" stroke-width="1.8"/>
<circle cx="173.5" cy="369" r="2.6" fill="#a9a9a9" stroke="#000" stroke-width="1.8"/>
<line x1="78.2" y1="424.8" x2="78.2" y2="433" stroke="#000" stroke-width="2.5" stroke-linecap="butt"/>
<line x1="124.2" y1="424.8" x2="124.2" y2="433" stroke="#000" stroke-width="2.5" stroke-linecap="butt"/>
<line x1="169.7" y1="424.8" x2="169.7" y2="433" stroke="#000" stroke-width="2.5" stroke-linecap="butt"/>
<polyline points="77.5,252 77.5,230 169.6,230 169.6,356" fill="none" stroke="#000" stroke-width="2.5" stroke-linejoin="miter"/>
<polyline points="77.5,271 77.5,261 123.5,261 123.5,352.5" fill="none" stroke="#000" stroke-width="2.5" stroke-linejoin="miter"/>
<path d="M109.9,215.9 L109.9,222.5 M107.04,217.55 L112.76,220.85 M112.76,217.55 L107.04,220.85" stroke="#000" stroke-width="2.2" stroke-linecap="round" fill="none"/>
<path d="M119.1,215.9 L119.1,222.5 M116.24,217.55 L121.96,220.85 M121.96,217.55 L116.24,220.85" stroke="#000" stroke-width="2.2" stroke-linecap="round" fill="none"/>
<path d="M128.5,215.9 L128.5,222.5 M125.64,217.55 L131.36,220.85 M131.36,217.55 L125.64,220.85" stroke="#000" stroke-width="2.2" stroke-linecap="round" fill="none"/>
<path d="M137.8,215.9 L137.8,222.5 M134.94,217.55 L140.66,220.85 M140.66,217.55 L134.94,220.85" stroke="#000" stroke-width="2.2" stroke-linecap="round" fill="none"/>
<path d="M96,246.2 L96,253 M93.06,247.9 L98.94,251.3 M98.94,247.9 L93.06,251.3" stroke="#000" stroke-width="2.2" stroke-linecap="round" fill="none"/>
<path d="M105.7,246.2 L105.7,253 M102.76,247.9 L108.64,251.3 M108.64,247.9 L102.76,251.3" stroke="#000" stroke-width="2.2" stroke-linecap="round" fill="none"/>
<text id="B_x4T1" transform="translate(80.65,441.75) rotate(-45)" font-size="12.21" text-anchor="end" font-weight="bold">4T1</text>
<text id="B_xSnord67KO-1" transform="translate(125.8,441.65) rotate(-45)" font-size="11.77" text-anchor="end" font-weight="bold">Snord67KO-1</text>
<text id="B_xSnord67KO-2" transform="translate(172.7,441.95) rotate(-45)" font-size="11.85" text-anchor="end" font-weight="bold">Snord67KO-2</text>
<line x1="41.8" y1="519.39" x2="41.8" y2="691.4" stroke="#000" stroke-width="2.5" stroke-linecap="butt"/>
<line x1="33" y1="690.2" x2="211.7" y2="690.2" stroke="#000" stroke-width="2.5" stroke-linecap="butt"/>
<line x1="33" y1="690.2" x2="41.8" y2="690.2" stroke="#000" stroke-width="2.5" stroke-linecap="butt"/>
<text id="C_t0" x="31.5" y="694.9" font-size="11.79" text-anchor="end" font-weight="bold" >0</text>
<line x1="33" y1="665.97" x2="41.8" y2="665.97" stroke="#000" stroke-width="2.5" stroke-linecap="butt"/>
<text id="C_t1" x="30.8" y="670.47" font-size="11.79" text-anchor="end" font-weight="bold" >1</text>
<line x1="33" y1="641.74" x2="41.8" y2="641.74" stroke="#000" stroke-width="2.5" stroke-linecap="butt"/>
<text id="C_t2" x="31" y="646.04" font-size="11.79" text-anchor="end" font-weight="bold" >2</text>
<line x1="33" y1="617.51" x2="41.8" y2="617.51" stroke="#000" stroke-width="2.5" stroke-linecap="butt"/>
<text id="C_t3" x="31.5" y="621.61" font-size="11.79" text-anchor="end" font-weight="bold" >3</text>
<line x1="33" y1="593.28" x2="41.8" y2="593.28" stroke="#000" stroke-width="2.5" stroke-linecap="butt"/>
<text id="C_t4" x="31.4" y="598.23" font-size="12.36" text-anchor="end" font-weight="bold" >4</text>
<line x1="33" y1="569.05" x2="41.8" y2="569.05" stroke="#000" stroke-width="2.5" stroke-linecap="butt"/>
<text id="C_t5" x="30.95" y="573.7" font-size="11.17" text-anchor="end" font-weight="bold" >5</text>
<line x1="33" y1="544.82" x2="41.8" y2="544.82" stroke="#000" stroke-width="2.5" stroke-linecap="butt"/>
<text id="C_t6" x="30.9" y="549.12" font-size="11.79" text-anchor="end" font-weight="bold" >6</text>
<line x1="33" y1="520.59" x2="41.8" y2="520.59" stroke="#000" stroke-width="2.5" stroke-linecap="butt"/>
<text id="C_t7" x="30.9" y="524.69" font-size="11.79" text-anchor="end" font-weight="bold" >7</text>
<text id="C_yl" transform="translate(15.05,687.25) rotate(-90)" font-size="13.69" text-anchor="start" font-weight="bold">LN metastases (log cells)</text>
<rect x="67.4" y="621.7" width="45.6" height="68.5" fill="#464748" stroke="#000" stroke-width="2.6"/>
<rect x="140.2" y="655.5" width="45.4" height="34.7" fill="#ea3431" stroke="#000" stroke-width="2.6"/>
<line x1="90.2" y1="620.4" x2="90.2" y2="575.2" stroke="#000" stroke-width="2.5" stroke-linecap="butt"/>
<line x1="77" y1="575.2" x2="103.5" y2="575.2" stroke="#000" stroke-width="2.5" stroke-linecap="butt"/>
<line x1="162.9" y1="654.2" x2="162.9" y2="645.9" stroke="#000" stroke-width="2.5" stroke-linecap="butt"/>
<line x1="149" y1="645.9" x2="175.6" y2="645.9" stroke="#000" stroke-width="2.5" stroke-linecap="butt"/>
<circle cx="68.3" cy="655.6" r="2.6" fill="#a9a9a9" stroke="#000" stroke-width="1.8"/>
<circle cx="79.4" cy="655.6" r="2.6" fill="#a9a9a9" stroke="#000" stroke-width="1.8"/>
<circle cx="90.2" cy="655.6" r="2.6" fill="#a9a9a9" stroke="#000" stroke-width="1.8"/>
<circle cx="100.7" cy="655.6" r="2.6" fill="#a9a9a9" stroke="#000" stroke-width="1.8"/>
<circle cx="111.8" cy="655.6" r="2.6" fill="#a9a9a9" stroke="#000" stroke-width="1.8"/>
<circle cx="90.2" cy="641.7" r="2.6" fill="#a9a9a9" stroke="#000" stroke-width="1.8"/>
<circle cx="90.2" cy="589.9" r="2.6" fill="#a9a9a9" stroke="#000" stroke-width="1.8"/>
<circle cx="90.2" cy="583.8" r="2.6" fill="#a9a9a9" stroke="#000" stroke-width="1.8"/>
<circle cx="90.2" cy="564.9" r="2.6" fill="#a9a9a9" stroke="#000" stroke-width="1.8"/>
<circle cx="90.2" cy="542.2" r="2.6" fill="#a9a9a9" stroke="#000" stroke-width="1.8"/>
<circle cx="141" cy="650" r="2.6" fill="#a9a9a9" stroke="#000" stroke-width="1.8"/>
<circle cx="141" cy="655.6" r="2.6" fill="#a9a9a9" stroke="#000" stroke-width="1.8"/>
<circle cx="147.9" cy="653.1" r="2.6" fill="#a9a9a9" stroke="#000" stroke-width="1.8"/>
<circle cx="153.4" cy="655.6" r="2.6" fill="#a9a9a9" stroke="#000" stroke-width="1.8"/>
<circle cx="159.8" cy="654.5" r="2.6" fill="#a9a9a9" stroke="#000" stroke-width="1.8"/>
<circle cx="165.9" cy="656.4" r="2.6" fill="#a9a9a9" stroke="#000" stroke-width="1.8"/>
<circle cx="172" cy="655.6" r="2.6" fill="#a9a9a9" stroke="#000" stroke-width="1.8"/>
<circle cx="178.4" cy="656.4" r="2.6" fill="#a9a9a9" stroke="#000" stroke-width="1.8"/>
<circle cx="184.8" cy="655.6" r="2.6" fill="#a9a9a9" stroke="#000" stroke-width="1.8"/>
<circle cx="163" cy="634.2" r="2.6" fill="#a9a9a9" stroke="#000" stroke-width="1.8"/>
<line x1="90.2" y1="690.2" x2="90.2" y2="698.6" stroke="#000" stroke-width="2.5" stroke-linecap="butt"/>
<line x1="162.9" y1="690.2" x2="162.9" y2="698.6" stroke="#000" stroke-width="2.5" stroke-linecap="butt"/>
<polyline points="89.6,533 89.6,521.9 163.1,521.9 163.1,625" fill="none" stroke="#000" stroke-width="2.5" stroke-linejoin="miter"/>
<path d="M126.65,506.8 L126.65,514 M123.44,508.77 L129.86,512.03 M129.86,508.77 L123.44,512.03" stroke="#000" stroke-width="2.4" stroke-linecap="round" fill="none"/>
<text id="C_xEO771" transform="translate(92.75,708.55) rotate(-45)" font-size="13.05" text-anchor="end" font-weight="bold">EO771</text>
<text id="C_xSnord67KO" transform="translate(165.65,708) rotate(-45)" font-size="13.11" text-anchor="end" font-weight="bold">Snord67KO</text>
<line x1="289.4" y1="267.7" x2="289.4" y2="423.5" stroke="#000" stroke-width="2.9" stroke-linecap="butt"/>
<line x1="289.4" y1="422.2" x2="444.6" y2="422.2" stroke="#000" stroke-width="2.9" stroke-linecap="butt"/>
<line x1="283.2" y1="422.2" x2="289.4" y2="422.2" stroke="#000" stroke-width="2.7" stroke-linecap="butt"/>
<text id="D_t0" x="280.8" y="426.7" font-size="13.25" text-anchor="end" font-weight="bold" >0</text>
<line x1="283.2" y1="383.9" x2="289.4" y2="383.9" stroke="#000" stroke-width="2.7" stroke-linecap="butt"/>
<text id="D_t500" x="280.3" y="388.9" font-size="12.56" text-anchor="end" font-weight="bold" >500</text>
<line x1="283.2" y1="345.6" x2="289.4" y2="345.6" stroke="#000" stroke-width="2.7" stroke-linecap="butt"/>
<text id="D_t1000" x="280.65" y="350.45" font-size="12.63" text-anchor="end" font-weight="bold" >1000</text>
<line x1="283.2" y1="307.3" x2="289.4" y2="307.3" stroke="#000" stroke-width="2.7" stroke-linecap="butt"/>
<text id="D_t1500" x="280.65" y="311.9" font-size="12.63" text-anchor="end" font-weight="bold" >1500</text>
<line x1="283.2" y1="269" x2="289.4" y2="269" stroke="#000" stroke-width="2.7" stroke-linecap="butt"/>
<text id="D_t2000" x="280.65" y="273.4" font-size="12.61" text-anchor="end" font-weight="bold" >2000</text>
<line x1="311.12" y1="422.2" x2="311.12" y2="427.7" stroke="#000" stroke-width="2.6" stroke-linecap="butt"/>
<line x1="333.05" y1="422.2" x2="333.05" y2="427.7" stroke="#000" stroke-width="2.6" stroke-linecap="butt"/>
<line x1="354.97" y1="422.2" x2="354.97" y2="427.7" stroke="#000" stroke-width="2.6" stroke-linecap="butt"/>
<line x1="376.9" y1="422.2" x2="376.9" y2="427.7" stroke="#000" stroke-width="2.6" stroke-linecap="butt"/>
<line x1="398.82" y1="422.2" x2="398.82" y2="427.7" stroke="#000" stroke-width="2.6" stroke-linecap="butt"/>
<line x1="420.75" y1="422.2" x2="420.75" y2="427.7" stroke="#000" stroke-width="2.6" stroke-linecap="butt"/>
<line x1="442.67" y1="422.2" x2="442.67" y2="427.7" stroke="#000" stroke-width="2.6" stroke-linecap="butt"/>
<line x1="289.4" y1="422.2" x2="289.4" y2="428.5" stroke="#000" stroke-width="2.9" stroke-linecap="butt"/>
<text id="D_d0" x="288.8" y="442.15" font-size="11.96" text-anchor="middle" font-weight="bold" >0</text>
<text id="D_d10" x="332.95" y="442.4" font-size="11.66" text-anchor="middle" font-weight="bold" >10</text>
<text id="D_d20" x="376.75" y="442.9" font-size="12.2" text-anchor="middle" font-weight="bold" >20</text>
<text id="D_d30" x="421.2" y="442.4" font-size="12.13" text-anchor="middle" font-weight="bold" >30</text>
<text id="D_xl" x="369" y="470.85" font-size="14.5" text-anchor="middle" font-weight="bold" >Days after MFP injection</text>
<text id="D_yl" transform="translate(243,423) rotate(-90)" font-size="14.59" text-anchor="start" font-weight="bold">Tumor Volume (mm<tspan font-size="10.5" dy="-5.5">3</tspan><tspan dy="5.5">)</tspan></text>
<polyline points="289.2,422.2 319.89,421.43 337.44,416 350.59,413.08 368.13,406.73 381.28,401.98 398.82,399.99 411.98,374.71 429.52,377.93 442.67,359.92" fill="none" stroke="#e8373a" stroke-width="3.2" stroke-linejoin="round"/>
<line x1="337.44" y1="418.29" x2="337.44" y2="413.7" stroke="#e8373a" stroke-width="2.9" stroke-linecap="butt"/>
<line x1="334.83" y1="418.29" x2="340.04" y2="418.29" stroke="#e8373a" stroke-width="2.9" stroke-linecap="round"/>
<line x1="334.83" y1="413.7" x2="340.04" y2="413.7" stroke="#e8373a" stroke-width="2.9" stroke-linecap="round"/>
<line x1="350.59" y1="415" x2="350.59" y2="411.17" stroke="#e8373a" stroke-width="2.9" stroke-linecap="butt"/>
<line x1="347.99" y1="415" x2="353.19" y2="415" stroke="#e8373a" stroke-width="2.9" stroke-linecap="round"/>
<line x1="347.99" y1="411.17" x2="353.19" y2="411.17" stroke="#e8373a" stroke-width="2.9" stroke-linecap="round"/>
<line x1="368.13" y1="409.41" x2="368.13" y2="404.05" stroke="#e8373a" stroke-width="2.9" stroke-linecap="butt"/>
<line x1="365.53" y1="409.41" x2="370.73" y2="409.41" stroke="#e8373a" stroke-width="2.9" stroke-linecap="round"/>
<line x1="365.53" y1="404.05" x2="370.73" y2="404.05" stroke="#e8373a" stroke-width="2.9" stroke-linecap="round"/>
<line x1="381.28" y1="404.66" x2="381.28" y2="399.3" stroke="#e8373a" stroke-width="2.9" stroke-linecap="butt"/>
<line x1="378.68" y1="404.66" x2="383.88" y2="404.66" stroke="#e8373a" stroke-width="2.9" stroke-linecap="round"/>
<line x1="378.68" y1="399.3" x2="383.88" y2="399.3" stroke="#e8373a" stroke-width="2.9" stroke-linecap="round"/>
<line x1="398.82" y1="404.43" x2="398.82" y2="395.54" stroke="#e8373a" stroke-width="2.9" stroke-linecap="butt"/>
<line x1="396.22" y1="404.43" x2="401.43" y2="404.43" stroke="#e8373a" stroke-width="2.9" stroke-linecap="round"/>
<line x1="396.22" y1="395.54" x2="401.43" y2="395.54" stroke="#e8373a" stroke-width="2.9" stroke-linecap="round"/>
<line x1="411.98" y1="384.59" x2="411.98" y2="364.83" stroke="#e8373a" stroke-width="2.9" stroke-linecap="butt"/>
<line x1="409.38" y1="384.59" x2="414.58" y2="384.59" stroke="#e8373a" stroke-width="2.9" stroke-linecap="round"/>
<line x1="409.38" y1="364.83" x2="414.58" y2="364.83" stroke="#e8373a" stroke-width="2.9" stroke-linecap="round"/>
<line x1="429.52" y1="389.42" x2="429.52" y2="366.44" stroke="#e8373a" stroke-width="2.9" stroke-linecap="butt"/>
<line x1="426.92" y1="389.42" x2="432.12" y2="389.42" stroke="#e8373a" stroke-width="2.9" stroke-linecap="round"/>
<line x1="426.92" y1="366.44" x2="432.12" y2="366.44" stroke="#e8373a" stroke-width="2.9" stroke-linecap="round"/>
<line x1="442.67" y1="379.92" x2="442.67" y2="339.93" stroke="#e8373a" stroke-width="2.9" stroke-linecap="butt"/>
<line x1="440.07" y1="379.92" x2="445.27" y2="379.92" stroke="#e8373a" stroke-width="2.9" stroke-linecap="round"/>
<line x1="440.07" y1="339.93" x2="445.27" y2="339.93" stroke="#e8373a" stroke-width="2.9" stroke-linecap="round"/>
<polyline points="289.2,422.2 319.89,421.43 337.44,409.64 350.59,403.82 368.13,399.07 381.28,384.51 398.82,368.96 411.98,363.52 429.52,337.17 442.67,320.02" fill="none" stroke="#000" stroke-width="3.2" stroke-linejoin="round"/>
<line x1="337.44" y1="411.94" x2="337.44" y2="407.34" stroke="#000" stroke-width="2.9" stroke-linecap="butt"/>
<line x1="334.83" y1="411.94" x2="340.04" y2="411.94" stroke="#000" stroke-width="2.9" stroke-linecap="round"/>
<line x1="334.83" y1="407.34" x2="340.04" y2="407.34" stroke="#000" stroke-width="2.9" stroke-linecap="round"/>
<line x1="350.59" y1="406.11" x2="350.59" y2="401.52" stroke="#000" stroke-width="2.9" stroke-linecap="butt"/>
<line x1="347.99" y1="406.11" x2="353.19" y2="406.11" stroke="#000" stroke-width="2.9" stroke-linecap="round"/>
<line x1="347.99" y1="401.52" x2="353.19" y2="401.52" stroke="#000" stroke-width="2.9" stroke-linecap="round"/>
<line x1="368.13" y1="401.75" x2="368.13" y2="396.39" stroke="#000" stroke-width="2.9" stroke-linecap="butt"/>
<line x1="365.53" y1="401.75" x2="370.73" y2="401.75" stroke="#000" stroke-width="2.9" stroke-linecap="round"/>
<line x1="365.53" y1="396.39" x2="370.73" y2="396.39" stroke="#000" stroke-width="2.9" stroke-linecap="round"/>
<line x1="381.28" y1="388.34" x2="381.28" y2="380.68" stroke="#000" stroke-width="2.9" stroke-linecap="butt"/>
<line x1="378.68" y1="388.34" x2="383.88" y2="388.34" stroke="#000" stroke-width="2.9" stroke-linecap="round"/>
<line x1="378.68" y1="380.68" x2="383.88" y2="380.68" stroke="#000" stroke-width="2.9" stroke-linecap="round"/>
<line x1="398.82" y1="376.62" x2="398.82" y2="361.3" stroke="#000" stroke-width="2.9" stroke-linecap="butt"/>
<line x1="396.22" y1="376.62" x2="401.43" y2="376.62" stroke="#000" stroke-width="2.9" stroke-linecap="round"/>
<line x1="396.22" y1="361.3" x2="401.43" y2="361.3" stroke="#000" stroke-width="2.9" stroke-linecap="round"/>
<line x1="411.98" y1="369.65" x2="411.98" y2="357.4" stroke="#000" stroke-width="2.9" stroke-linecap="butt"/>
<line x1="409.38" y1="369.65" x2="414.58" y2="369.65" stroke="#000" stroke-width="2.9" stroke-linecap="round"/>
<line x1="409.38" y1="357.4" x2="414.58" y2="357.4" stroke="#000" stroke-width="2.9" stroke-linecap="round"/>
<line x1="429.52" y1="344.6" x2="429.52" y2="329.74" stroke="#000" stroke-width="2.9" stroke-linecap="butt"/>
<line x1="426.92" y1="344.6" x2="432.12" y2="344.6" stroke="#000" stroke-width="2.9" stroke-linecap="round"/>
<line x1="426.92" y1="329.74" x2="432.12" y2="329.74" stroke="#000" stroke-width="2.9" stroke-linecap="round"/>
<line x1="442.67" y1="328.44" x2="442.67" y2="311.59" stroke="#000" stroke-width="2.9" stroke-linecap="butt"/>
<line x1="440.07" y1="328.44" x2="445.27" y2="328.44" stroke="#000" stroke-width="2.9" stroke-linecap="round"/>
<line x1="440.07" y1="311.59" x2="445.27" y2="311.59" stroke="#000" stroke-width="2.9" stroke-linecap="round"/>
<polyline points="289.2,422.2 319.89,421.05 337.44,400.29 350.59,396.77 368.13,391.33 381.28,371.11 398.82,358.47 411.98,342.92 429.52,336.18 442.67,300.02" fill="none" stroke="#6b5ba0" stroke-width="3.2" stroke-linejoin="round"/>
<line x1="337.44" y1="404.12" x2="337.44" y2="396.46" stroke="#6b5ba0" stroke-width="2.9" stroke-linecap="butt"/>
<line x1="334.83" y1="404.12" x2="340.04" y2="404.12" stroke="#6b5ba0" stroke-width="2.9" stroke-linecap="round"/>
<line x1="334.83" y1="396.46" x2="340.04" y2="396.46" stroke="#6b5ba0" stroke-width="2.9" stroke-linecap="round"/>
<line x1="350.59" y1="399.83" x2="350.59" y2="393.7" stroke="#6b5ba0" stroke-width="2.9" stroke-linecap="butt"/>
<line x1="347.99" y1="399.83" x2="353.19" y2="399.83" stroke="#6b5ba0" stroke-width="2.9" stroke-linecap="round"/>
<line x1="347.99" y1="393.7" x2="353.19" y2="393.7" stroke="#6b5ba0" stroke-width="2.9" stroke-linecap="round"/>
<line x1="368.13" y1="393.63" x2="368.13" y2="389.03" stroke="#6b5ba0" stroke-width="2.9" stroke-linecap="butt"/>
<line x1="365.53" y1="393.63" x2="370.73" y2="393.63" stroke="#6b5ba0" stroke-width="2.9" stroke-linecap="round"/>
<line x1="365.53" y1="389.03" x2="370.73" y2="389.03" stroke="#6b5ba0" stroke-width="2.9" stroke-linecap="round"/>
<line x1="381.28" y1="376.47" x2="381.28" y2="365.75" stroke="#6b5ba0" stroke-width="2.9" stroke-linecap="butt"/>
<line x1="378.68" y1="376.47" x2="383.88" y2="376.47" stroke="#6b5ba0" stroke-width="2.9" stroke-linecap="round"/>
<line x1="378.68" y1="365.75" x2="383.88" y2="365.75" stroke="#6b5ba0" stroke-width="2.9" stroke-linecap="round"/>
<line x1="398.82" y1="363.06" x2="398.82" y2="353.87" stroke="#6b5ba0" stroke-width="2.9" stroke-linecap="butt"/>
<line x1="396.22" y1="363.06" x2="401.43" y2="363.06" stroke="#6b5ba0" stroke-width="2.9" stroke-linecap="round"/>
<line x1="396.22" y1="353.87" x2="401.43" y2="353.87" stroke="#6b5ba0" stroke-width="2.9" stroke-linecap="round"/>
<line x1="411.98" y1="352.11" x2="411.98" y2="333.73" stroke="#6b5ba0" stroke-width="2.9" stroke-linecap="butt"/>
<line x1="409.38" y1="352.11" x2="414.58" y2="352.11" stroke="#6b5ba0" stroke-width="2.9" stroke-linecap="round"/>
<line x1="409.38" y1="333.73" x2="414.58" y2="333.73" stroke="#6b5ba0" stroke-width="2.9" stroke-linecap="round"/>
<line x1="429.52" y1="348.05" x2="429.52" y2="324.31" stroke="#6b5ba0" stroke-width="2.9" stroke-linecap="butt"/>
<line x1="426.92" y1="348.05" x2="432.12" y2="348.05" stroke="#6b5ba0" stroke-width="2.9" stroke-linecap="round"/>
<line x1="426.92" y1="324.31" x2="432.12" y2="324.31" stroke="#6b5ba0" stroke-width="2.9" stroke-linecap="round"/>
<line x1="442.67" y1="316.88" x2="442.67" y2="283.17" stroke="#6b5ba0" stroke-width="2.9" stroke-linecap="butt"/>
<line x1="440.07" y1="316.88" x2="445.27" y2="316.88" stroke="#6b5ba0" stroke-width="2.9" stroke-linecap="round"/>
<line x1="440.07" y1="283.17" x2="445.27" y2="283.17" stroke="#6b5ba0" stroke-width="2.9" stroke-linecap="round"/>
<line x1="296" y1="276.8" x2="314.6" y2="276.8" stroke="#000" stroke-width="3.2" stroke-linecap="butt"/>
<line x1="296" y1="292.8" x2="314.6" y2="292.8" stroke="#e8373a" stroke-width="3.2" stroke-linecap="butt"/>
<line x1="296" y1="309.5" x2="314.6" y2="309.5" stroke="#6b5ba0" stroke-width="3.2" stroke-linecap="butt"/>
<text id="D_l1" x="326.15" y="283" font-size="14.61" text-anchor="start" font-weight="bold" >4T1</text>
<text id="D_l2" x="323.15" y="299.25" font-size="14.44" text-anchor="start" font-weight="bold" >Snord67KO-1</text>
<text id="D_l3" x="323" y="314.3" font-size="14.65" text-anchor="start" font-weight="bold" >Snord67KO-2</text>
<text id="D_s3" x="459.1" y="370" font-size="17.8" text-anchor="middle" font-weight="bold" >***</text>
<text id="D_s4" x="431.45" y="407.45" font-size="17.9" text-anchor="middle" font-weight="bold" >****</text>
<text id="D_s2" x="399.3" y="420.85" font-size="18.21" text-anchor="middle" font-weight="bold" >**</text>
<line x1="286.2" y1="518.6" x2="286.2" y2="687.6" stroke="#000" stroke-width="2.8" stroke-linecap="butt"/>
<line x1="286.2" y1="686.3" x2="453.8" y2="686.3" stroke="#000" stroke-width="2.8" stroke-linecap="butt"/>
<line x1="279.5" y1="686.3" x2="286.2" y2="686.3" stroke="#000" stroke-width="2.7" stroke-linecap="butt"/>
<text id="E_t0" x="276.7" y="690.3" font-size="11.75" text-anchor="end" font-weight="bold" >0</text>
<line x1="279.5" y1="644.7" x2="286.2" y2="644.7" stroke="#000" stroke-width="2.7" stroke-linecap="butt"/>
<text id="E_t500" x="277.7" y="649.4" font-size="13.57" text-anchor="end" font-weight="bold" >500</text>
<line x1="279.5" y1="603.1" x2="286.2" y2="603.1" stroke="#000" stroke-width="2.7" stroke-linecap="butt"/>
<text id="E_t1000" x="277.1" y="607.25" font-size="13.42" text-anchor="end" font-weight="bold" >1000</text>
<line x1="279.5" y1="561.5" x2="286.2" y2="561.5" stroke="#000" stroke-width="2.7" stroke-linecap="butt"/>
<text id="E_t1500" x="277.1" y="566.05" font-size="13.42" text-anchor="end" font-weight="bold" >1500</text>
<line x1="279.5" y1="519.9" x2="286.2" y2="519.9" stroke="#000" stroke-width="2.7" stroke-linecap="butt"/>
<text id="E_t2000" x="277.85" y="525.05" font-size="13.63" text-anchor="end" font-weight="bold" >2000</text>
<line x1="309.8" y1="686.3" x2="309.8" y2="691" stroke="#000" stroke-width="2.6" stroke-linecap="butt"/>
<line x1="333.4" y1="686.3" x2="333.4" y2="691" stroke="#000" stroke-width="2.6" stroke-linecap="butt"/>
<line x1="357" y1="686.3" x2="357" y2="691" stroke="#000" stroke-width="2.6" stroke-linecap="butt"/>
<line x1="380.6" y1="686.3" x2="380.6" y2="691" stroke="#000" stroke-width="2.6" stroke-linecap="butt"/>
<line x1="404.2" y1="686.3" x2="404.2" y2="691" stroke="#000" stroke-width="2.6" stroke-linecap="butt"/>
<line x1="427.8" y1="686.3" x2="427.8" y2="691" stroke="#000" stroke-width="2.6" stroke-linecap="butt"/>
<line x1="451.4" y1="686.3" x2="451.4" y2="691" stroke="#000" stroke-width="2.6" stroke-linecap="butt"/>
<line x1="286.2" y1="686.3" x2="286.2" y2="692" stroke="#000" stroke-width="2.8" stroke-linecap="butt"/>
<text id="E_d0" x="285.8" y="707.25" font-size="13.71" text-anchor="middle" font-weight="bold" >0</text>
<text id="E_d10" x="333.55" y="708" font-size="14.29" text-anchor="middle" font-weight="bold" >10</text>
<text id="E_d20" x="381" y="707.5" font-size="13.87" text-anchor="middle" font-weight="bold" >20</text>
<text id="E_d30" x="428.35" y="707.5" font-size="15.19" text-anchor="middle" font-weight="bold" >30</text>
<text id="E_xl" x="384.25" y="724.9" font-size="15.62" text-anchor="middle" font-weight="bold" >Days after MFP injection</text>
<text id="E_yl" transform="translate(237.75,692.5) rotate(-90)" font-size="15.72" text-anchor="start" font-weight="bold">Tumor Volume (mm<tspan font-size="11" dy="-6">3</tspan><tspan dy="6">)</tspan></text>
<polyline points="286.2,686.3 319.24,686.3 338.12,683.3 352.28,678.06 371.16,668.08 385.32,647.94 404.2,620.82 418.36,573.81 437.24,547.36" fill="none" stroke="#000" stroke-width="3.2" stroke-linejoin="round"/>
<circle cx="286.2" cy="686.3" r="2.2" fill="#000"/>
<circle cx="319.24" cy="686.3" r="2.2" fill="#000"/>
<circle cx="338.12" cy="683.3" r="2.2" fill="#000"/>
<circle cx="352.28" cy="678.06" r="2.2" fill="#000"/>
<circle cx="371.16" cy="668.08" r="2.2" fill="#000"/>
<circle cx="385.32" cy="647.94" r="2.2" fill="#000"/>
<circle cx="404.2" cy="620.82" r="2.2" fill="#000"/>
<circle cx="418.36" cy="573.81" r="2.2" fill="#000"/>
<circle cx="437.24" cy="547.36" r="2.2" fill="#000"/>
<line x1="371.16" y1="670.49" x2="371.16" y2="665.67" stroke="#000" stroke-width="2.9" stroke-linecap="butt"/>
<line x1="368.56" y1="670.49" x2="373.76" y2="670.49" stroke="#000" stroke-width="2.9" stroke-linecap="round"/>
<line x1="368.56" y1="665.67" x2="373.76" y2="665.67" stroke="#000" stroke-width="2.9" stroke-linecap="round"/>
<line x1="385.32" y1="654.68" x2="385.32" y2="641.21" stroke="#000" stroke-width="2.9" stroke-linecap="butt"/>
<line x1="382.72" y1="654.68" x2="387.92" y2="654.68" stroke="#000" stroke-width="2.9" stroke-linecap="round"/>
<line x1="382.72" y1="641.21" x2="387.92" y2="641.21" stroke="#000" stroke-width="2.9" stroke-linecap="round"/>
<line x1="404.2" y1="630.56" x2="404.2" y2="611.09" stroke="#000" stroke-width="2.9" stroke-linecap="butt"/>
<line x1="401.6" y1="630.56" x2="406.8" y2="630.56" stroke="#000" stroke-width="2.9" stroke-linecap="round"/>
<line x1="401.6" y1="611.09" x2="406.8" y2="611.09" stroke="#000" stroke-width="2.9" stroke-linecap="round"/>
<line x1="418.36" y1="588.71" x2="418.36" y2="558.92" stroke="#000" stroke-width="2.9" stroke-linecap="butt"/>
<line x1="415.76" y1="588.71" x2="420.96" y2="588.71" stroke="#000" stroke-width="2.9" stroke-linecap="round"/>
<line x1="415.76" y1="558.92" x2="420.96" y2="558.92" stroke="#000" stroke-width="2.9" stroke-linecap="round"/>
<line x1="437.24" y1="562.83" x2="437.24" y2="531.88" stroke="#000" stroke-width="2.9" stroke-linecap="butt"/>
<line x1="434.64" y1="562.83" x2="439.84" y2="562.83" stroke="#000" stroke-width="2.9" stroke-linecap="round"/>
<line x1="434.64" y1="531.88" x2="439.84" y2="531.88" stroke="#000" stroke-width="2.9" stroke-linecap="round"/>
<polyline points="286.2,686.3 319.24,686.3 338.12,686.3 352.28,686.3 371.16,683.8 385.32,679.64 404.2,678.15 418.36,663.67 437.24,646.7" fill="none" stroke="#e8373a" stroke-width="3.2" stroke-linejoin="round"/>
<circle cx="286.2" cy="686.3" r="2.2" fill="#e8373a"/>
<circle cx="319.24" cy="686.3" r="2.2" fill="#e8373a"/>
<circle cx="338.12" cy="686.3" r="2.2" fill="#e8373a"/>
<circle cx="352.28" cy="686.3" r="2.2" fill="#e8373a"/>
<circle cx="371.16" cy="683.8" r="2.2" fill="#e8373a"/>
<circle cx="385.32" cy="679.64" r="2.2" fill="#e8373a"/>
<circle cx="404.2" cy="678.15" r="2.2" fill="#e8373a"/>
<circle cx="418.36" cy="663.67" r="2.2" fill="#e8373a"/>
<circle cx="437.24" cy="646.7" r="2.2" fill="#e8373a"/>
<line x1="385.32" y1="683.55" x2="385.32" y2="675.73" stroke="#e8373a" stroke-width="2.9" stroke-linecap="butt"/>
<line x1="382.72" y1="683.55" x2="387.92" y2="683.55" stroke="#e8373a" stroke-width="2.9" stroke-linecap="round"/>
<line x1="382.72" y1="675.73" x2="387.92" y2="675.73" stroke="#e8373a" stroke-width="2.9" stroke-linecap="round"/>
<line x1="404.2" y1="682.31" x2="404.2" y2="673.99" stroke="#e8373a" stroke-width="2.9" stroke-linecap="butt"/>
<line x1="401.6" y1="682.31" x2="406.8" y2="682.31" stroke="#e8373a" stroke-width="2.9" stroke-linecap="round"/>
<line x1="401.6" y1="673.99" x2="406.8" y2="673.99" stroke="#e8373a" stroke-width="2.9" stroke-linecap="round"/>
<line x1="418.36" y1="677.9" x2="418.36" y2="649.44" stroke="#e8373a" stroke-width="2.9" stroke-linecap="butt"/>
<line x1="415.76" y1="677.9" x2="420.96" y2="677.9" stroke="#e8373a" stroke-width="2.9" stroke-linecap="round"/>
<line x1="415.76" y1="649.44" x2="420.96" y2="649.44" stroke="#e8373a" stroke-width="2.9" stroke-linecap="round"/>
<line x1="437.24" y1="672.49" x2="437.24" y2="620.9" stroke="#e8373a" stroke-width="2.9" stroke-linecap="butt"/>
<line x1="434.64" y1="672.49" x2="439.84" y2="672.49" stroke="#e8373a" stroke-width="2.9" stroke-linecap="round"/>
<line x1="434.64" y1="620.9" x2="439.84" y2="620.9" stroke="#e8373a" stroke-width="2.9" stroke-linecap="round"/>
<line x1="297.5" y1="526.8" x2="316.7" y2="526.8" stroke="#000" stroke-width="3.2" stroke-linecap="butt"/>
<line x1="297.5" y1="544.8" x2="316.7" y2="544.8" stroke="#e8373a" stroke-width="3.2" stroke-linecap="butt"/>
<circle cx="307" cy="526.8" r="2" fill="#000"/><circle cx="307" cy="544.8" r="2" fill="#e8373a"/>
<text id="E_l1" x="325.35" y="532.8" font-size="15.52" text-anchor="start" font-weight="bold" >EO771</text>
<text id="E_l2" x="325.35" y="551.6" font-size="15.74" text-anchor="start" font-weight="bold" >Snord67KO</text>
<text id="E_s4" x="434.85" y="619.35" font-size="19.65" text-anchor="middle" font-weight="bold" >****</text>
<text id="E_s3a" x="419.75" y="648.25" font-size="19.66" text-anchor="middle" font-weight="bold" >***</text>
<text id="E_s3b" x="403.05" y="672.15" font-size="19.74" text-anchor="middle" font-weight="bold" >***</text>
<line x1="522.6" y1="260.08" x2="522.6" y2="424.4" stroke="#000" stroke-width="3" stroke-linecap="butt"/>
<line x1="514.3" y1="423" x2="685" y2="423" stroke="#000" stroke-width="2.9" stroke-linecap="butt"/>
<line x1="514.3" y1="423" x2="522.6" y2="423" stroke="#000" stroke-width="2.8" stroke-linecap="butt"/>
<text id="F_t0" x="512.7" y="427.35" font-size="12.23" text-anchor="end" font-weight="bold" >0</text>
<line x1="514.3" y1="382.62" x2="522.6" y2="382.62" stroke="#000" stroke-width="2.8" stroke-linecap="butt"/>
<text id="F_t2" x="512.55" y="387.57" font-size="12.21" text-anchor="end" font-weight="bold" >2</text>
<line x1="514.3" y1="342.24" x2="522.6" y2="342.24" stroke="#000" stroke-width="2.8" stroke-linecap="butt"/>
<text id="F_t4" x="512.55" y="346.19" font-size="12.23" text-anchor="end" font-weight="bold" >4</text>
<line x1="514.3" y1="301.86" x2="522.6" y2="301.86" stroke="#000" stroke-width="2.8" stroke-linecap="butt"/>
<text id="F_t6" x="512.7" y="305.81" font-size="12.21" text-anchor="end" font-weight="bold" >6</text>
<line x1="514.3" y1="261.48" x2="522.6" y2="261.48" stroke="#000" stroke-width="2.8" stroke-linecap="butt"/>
<text id="F_t8" x="512.55" y="266.23" font-size="12.21" text-anchor="end" font-weight="bold" >8</text>
<text id="F_yl" transform="translate(497.7,427.65) rotate(-90)" font-size="13.02" text-anchor="start" font-weight="bold">Lung metastases (log cells)</text>
<rect x="540.65" y="312.1" width="29.5" height="110.9" fill="#464748" stroke="#000" stroke-width="2.8"/>
<rect x="589.25" y="343.7" width="29.5" height="79.3" fill="#ea3431" stroke="#000" stroke-width="2.8"/>
<rect x="637.85" y="322.5" width="29.5" height="100.5" fill="#6b5b9b" stroke="#000" stroke-width="2.8"/>
<line x1="555.4" y1="310.7" x2="555.4" y2="293.7" stroke="#000" stroke-width="2.5" stroke-linecap="butt"/>
<line x1="546.2" y1="293.7" x2="564.6" y2="293.7" stroke="#000" stroke-width="2.5" stroke-linecap="butt"/>
<line x1="604" y1="342.3" x2="604" y2="319.5" stroke="#000" stroke-width="2.5" stroke-linecap="butt"/>
<line x1="594.8" y1="319.5" x2="613.2" y2="319.5" stroke="#000" stroke-width="2.5" stroke-linecap="butt"/>
<line x1="652.6" y1="321.1" x2="652.6" y2="298.6" stroke="#000" stroke-width="2.5" stroke-linecap="butt"/>
<line x1="643.4" y1="298.6" x2="661.8" y2="298.6" stroke="#000" stroke-width="2.5" stroke-linecap="butt"/>
<circle cx="555.4" cy="279.9" r="2.6" fill="#a9a9a9" stroke="#000" stroke-width="1.8"/>
<circle cx="545.5" cy="296.9" r="2.6" fill="#a9a9a9" stroke="#000" stroke-width="1.8"/>
<circle cx="555.4" cy="299.6" r="2.6" fill="#a9a9a9" stroke="#000" stroke-width="1.8"/>
<circle cx="555.4" cy="305.2" r="2.6" fill="#a9a9a9" stroke="#000" stroke-width="1.8"/>
<circle cx="545.5" cy="308.1" r="2.6" fill="#a9a9a9" stroke="#000" stroke-width="1.8"/>
<circle cx="565.2" cy="308.1" r="2.6" fill="#a9a9a9" stroke="#000" stroke-width="1.8"/>
<circle cx="555.4" cy="317.6" r="2.6" fill="#a9a9a9" stroke="#000" stroke-width="1.8"/>
<circle cx="565.2" cy="324.1" r="2.6" fill="#a9a9a9" stroke="#000" stroke-width="1.8"/>
<circle cx="555.4" cy="327.2" r="2.6" fill="#a9a9a9" stroke="#000" stroke-width="1.8"/>
<circle cx="555.4" cy="336.4" r="2.6" fill="#a9a9a9" stroke="#000" stroke-width="1.8"/>
<circle cx="599.4" cy="301.5" r="2.6" fill="#a9a9a9" stroke="#000" stroke-width="1.8"/>
<circle cx="608.6" cy="301.5" r="2.6" fill="#a9a9a9" stroke="#000" stroke-width="1.8"/>
<circle cx="604" cy="335.4" r="2.6" fill="#a9a9a9" stroke="#000" stroke-width="1.8"/>
<circle cx="590.2" cy="352.8" r="2.6" fill="#a9a9a9" stroke="#000" stroke-width="1.8"/>
<circle cx="590.2" cy="358" r="2.6" fill="#a9a9a9" stroke="#000" stroke-width="1.8"/>
<circle cx="599.4" cy="354.4" r="2.6" fill="#a9a9a9" stroke="#000" stroke-width="1.8"/>
<circle cx="608.6" cy="349.6" r="2.6" fill="#a9a9a9" stroke="#000" stroke-width="1.8"/>
<circle cx="608.6" cy="358.3" r="2.6" fill="#a9a9a9" stroke="#000" stroke-width="1.8"/>
<circle cx="617.8" cy="348.8" r="2.6" fill="#a9a9a9" stroke="#000" stroke-width="1.8"/>
<circle cx="617.8" cy="357" r="2.6" fill="#a9a9a9" stroke="#000" stroke-width="1.8"/>
<circle cx="652.6" cy="282.3" r="2.6" fill="#a9a9a9" stroke="#000" stroke-width="1.8"/>
<circle cx="652.6" cy="294.4" r="2.6" fill="#a9a9a9" stroke="#000" stroke-width="1.8"/>
<circle cx="642.9" cy="310.7" r="2.6" fill="#a9a9a9" stroke="#000" stroke-width="1.8"/>
<circle cx="652.6" cy="309.5" r="2.6" fill="#a9a9a9" stroke="#000" stroke-width="1.8"/>
<circle cx="662.2" cy="311.3" r="2.6" fill="#a9a9a9" stroke="#000" stroke-width="1.8"/>
<circle cx="642.9" cy="333.9" r="2.6" fill="#a9a9a9" stroke="#000" stroke-width="1.8"/>
<circle cx="652.6" cy="338" r="2.6" fill="#a9a9a9" stroke="#000" stroke-width="1.8"/>
<circle cx="662.2" cy="337" r="2.6" fill="#a9a9a9" stroke="#000" stroke-width="1.8"/>
<circle cx="642.9" cy="343.7" r="2.6" fill="#a9a9a9" stroke="#000" stroke-width="1.8"/>
<circle cx="662.2" cy="342" r="2.6" fill="#a9a9a9" stroke="#000" stroke-width="1.8"/>
<line x1="555.4" y1="423" x2="555.4" y2="431" stroke="#000" stroke-width="2.5" stroke-linecap="butt"/>
<line x1="604" y1="423" x2="604" y2="431" stroke="#000" stroke-width="2.5" stroke-linecap="butt"/>
<line x1="652.6" y1="423" x2="652.6" y2="431" stroke="#000" stroke-width="2.5" stroke-linecap="butt"/>
<polyline points="555.4,250 555.4,226.5 652.6,226.5 652.6,271.5" fill="none" stroke="#000" stroke-width="2.8" stroke-linejoin="miter"/>
<polyline points="555.4,270.3 555.4,259.8 604,259.8 604,292.3" fill="none" stroke="#000" stroke-width="2.8" stroke-linejoin="miter"/>
<text id="F_ns" x="604" y="217.85" font-size="13.54" text-anchor="middle" font-weight="bold" >ns</text>
<path d="M574.7,245.35 L574.7,252.45 M571.63,247.12 L577.77,250.68 M577.77,247.12 L571.63,250.68" stroke="#000" stroke-width="2.6" stroke-linecap="round" fill="none"/>
<path d="M584.7,245.35 L584.7,252.45 M581.63,247.12 L587.77,250.68 M587.77,247.12 L581.63,250.68" stroke="#000" stroke-width="2.6" stroke-linecap="round" fill="none"/>
<text id="F_x4T1" transform="translate(558.3,440.85) rotate(-45)" font-size="12.49" text-anchor="end" font-weight="bold">4T1</text>
<text id="F_xSnord67KO-1" transform="translate(605.7,441) rotate(-45)" font-size="12.21" text-anchor="end" font-weight="bold">Snord67KO-1</text>
<text id="F_xSnord67KO-2" transform="translate(655.25,441) rotate(-45)" font-size="12.35" text-anchor="end" font-weight="bold">Snord67KO-2</text>
<line x1="524.3" y1="522.89" x2="524.3" y2="685.8" stroke="#000" stroke-width="2.8" stroke-linecap="butt"/>
<line x1="516" y1="684.4" x2="685" y2="684.4" stroke="#000" stroke-width="2.8" stroke-linecap="butt"/>
<line x1="516" y1="684.4" x2="524.3" y2="684.4" stroke="#000" stroke-width="2.8" stroke-linecap="butt"/>
<text id="G_t0" x="514.05" y="689.75" font-size="12.23" text-anchor="end" font-weight="bold" >0</text>
<line x1="516" y1="631.03" x2="524.3" y2="631.03" stroke="#000" stroke-width="2.8" stroke-linecap="butt"/>
<text id="G_t3" x="514.05" y="635.78" font-size="12.21" text-anchor="end" font-weight="bold" >3</text>
<line x1="516" y1="577.66" x2="524.3" y2="577.66" stroke="#000" stroke-width="2.8" stroke-linecap="butt"/>
<text id="G_t6" x="514.05" y="582.51" font-size="12.21" text-anchor="end" font-weight="bold" >6</text>
<line x1="516" y1="524.29" x2="524.3" y2="524.29" stroke="#000" stroke-width="2.8" stroke-linecap="butt"/>
<text id="G_t9" x="514.75" y="529.34" font-size="12.21" text-anchor="end" font-weight="bold" >9</text>
<text id="G_yl" transform="translate(498.8,689.25) rotate(-90)" font-size="12.88" text-anchor="start" font-weight="bold">Lung metastases (log cells)</text>
<rect x="549.1" y="612.2" width="41.8" height="72.2" fill="#464748" stroke="#000" stroke-width="2.8"/>
<rect x="617.5" y="628.9" width="41.8" height="55.5" fill="#ea3431" stroke="#000" stroke-width="2.8"/>
<line x1="570" y1="610.8" x2="570" y2="561.6" stroke="#000" stroke-width="2.5" stroke-linecap="butt"/>
<line x1="558" y1="561.6" x2="582.4" y2="561.6" stroke="#000" stroke-width="2.5" stroke-linecap="butt"/>
<line x1="638.4" y1="627.5" x2="638.4" y2="573.8" stroke="#000" stroke-width="2.5" stroke-linecap="butt"/>
<line x1="626.4" y1="573.8" x2="650.8" y2="573.8" stroke="#000" stroke-width="2.5" stroke-linecap="butt"/>
<circle cx="569.8" cy="534.9" r="2.6" fill="#a9a9a9" stroke="#000" stroke-width="1.8"/>
<circle cx="565.1" cy="559.7" r="2.6" fill="#a9a9a9" stroke="#000" stroke-width="1.8"/>
<circle cx="575.1" cy="564.1" r="2.6" fill="#a9a9a9" stroke="#000" stroke-width="1.8"/>
<circle cx="569.8" cy="577.9" r="2.6" fill="#a9a9a9" stroke="#000" stroke-width="1.8"/>
<circle cx="569.8" cy="610.2" r="2.6" fill="#a9a9a9" stroke="#000" stroke-width="1.8"/>
<circle cx="569.8" cy="629.7" r="2.6" fill="#a9a9a9" stroke="#000" stroke-width="1.8"/>
<circle cx="569.8" cy="638.5" r="2.6" fill="#a9a9a9" stroke="#000" stroke-width="1.8"/>
<circle cx="569.8" cy="651.6" r="2.6" fill="#a9a9a9" stroke="#000" stroke-width="1.8"/>
<circle cx="569.8" cy="658.5" r="2.6" fill="#a9a9a9" stroke="#000" stroke-width="1.8"/>
<circle cx="569.8" cy="681.5" r="2.6" fill="#a9a9a9" stroke="#000" stroke-width="1.8"/>
<circle cx="638.9" cy="544" r="2.6" fill="#a9a9a9" stroke="#000" stroke-width="1.8"/>
<circle cx="638.9" cy="573.8" r="2.6" fill="#a9a9a9" stroke="#000" stroke-width="1.8"/>
<circle cx="638.9" cy="610.8" r="2.6" fill="#a9a9a9" stroke="#000" stroke-width="1.8"/>
<circle cx="638.9" cy="646" r="2.6" fill="#a9a9a9" stroke="#000" stroke-width="1.8"/>
<circle cx="638.9" cy="653.2" r="2.6" fill="#a9a9a9" stroke="#000" stroke-width="1.8"/>
<circle cx="634.2" cy="682" r="2.6" fill="#a9a9a9" stroke="#000" stroke-width="1.8"/>
<circle cx="643.6" cy="680.8" r="2.6" fill="#a9a9a9" stroke="#000" stroke-width="1.8"/>
<line x1="570" y1="684.4" x2="570" y2="692.9" stroke="#000" stroke-width="2.5" stroke-linecap="butt"/>
<line x1="638.4" y1="684.4" x2="638.4" y2="692.9" stroke="#000" stroke-width="2.5" stroke-linecap="butt"/>
<polyline points="569.8,524 569.8,516.4 638.9,516.4 638.9,536.4" fill="none" stroke="#000" stroke-width="2.7" stroke-linejoin="miter"/>
<text id="G_ns" x="604.75" y="508.25" font-size="13.12" text-anchor="middle" font-weight="bold" >ns</text>
<text id="G_xEO771" transform="translate(571.95,701.8) rotate(-45)" font-size="12.09" text-anchor="end" font-weight="bold">EO771</text>
<text id="G_xSnord67KO" transform="translate(641.7,702.5) rotate(-45)" font-size="12.29" text-anchor="end" font-weight="bold">Snord67KO</text>
</svg></body></html>
